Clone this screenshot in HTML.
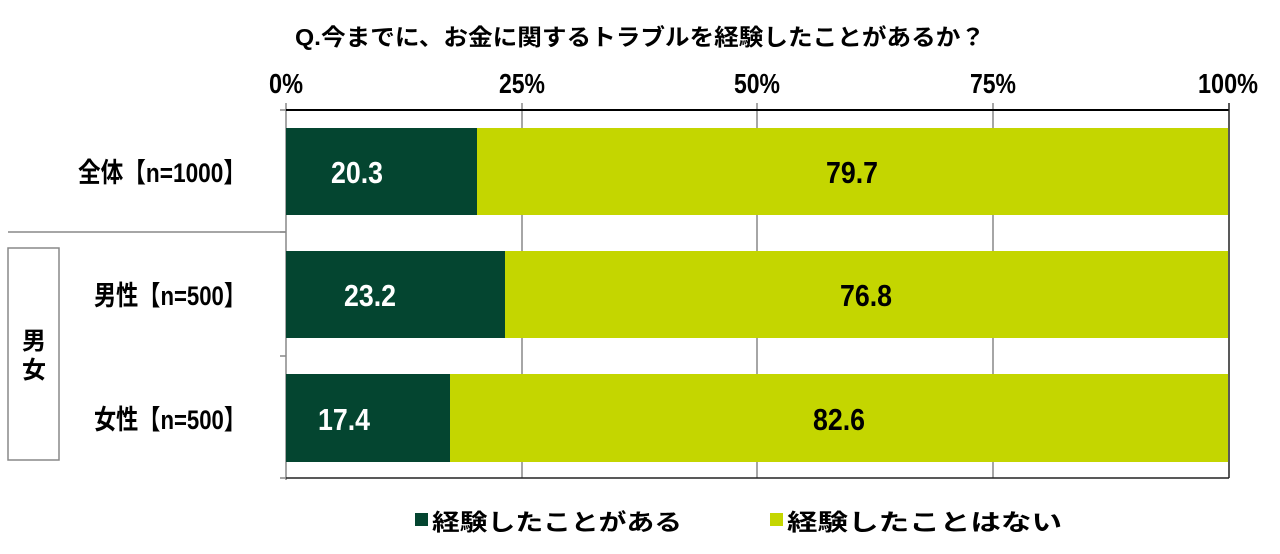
<!DOCTYPE html>
<html><head><meta charset="utf-8"><style>body{margin:0;background:#fff}svg{display:block}</style></head>
<body>
<svg width="1280" height="554" xmlns="http://www.w3.org/2000/svg" font-family="'Liberation Sans','Noto Sans CJK JP',sans-serif" font-weight="bold">
<text x="640" y="45" text-anchor="middle" font-size="23" textLength="690" lengthAdjust="spacingAndGlyphs">Q.今までに、お金に関するトラブルを経験したことがあるか？</text>
<g font-size="28" text-anchor="middle">
<text x="286" y="93" textLength="34" lengthAdjust="spacingAndGlyphs">0%</text>
<text x="522" y="93" textLength="46" lengthAdjust="spacingAndGlyphs">25%</text>
<text x="757" y="93" textLength="46" lengthAdjust="spacingAndGlyphs">50%</text>
<text x="993" y="93" textLength="46" lengthAdjust="spacingAndGlyphs">75%</text>
<text x="1228" y="93" textLength="60" lengthAdjust="spacingAndGlyphs">100%</text>
</g>
<g stroke="#888" stroke-width="1.5">
<line x1="522" y1="103" x2="522" y2="478"/><line x1="757" y1="103" x2="757" y2="478"/><line x1="993" y1="103" x2="993" y2="478"/>
<line x1="286" y1="103" x2="286" y2="480"/>
<line x1="280" y1="110" x2="286" y2="110"/><line x1="280" y1="232" x2="286" y2="232"/><line x1="280" y1="356" x2="286" y2="356"/><line x1="280" y1="478" x2="286" y2="478"/>
<line x1="8" y1="232" x2="286" y2="232"/>
</g>
<rect x="8" y="248" width="51" height="212" fill="none" stroke="#888" stroke-width="1.5"/>
<rect x="286" y="128" width="191" height="87" fill="#044530"/><rect x="477" y="128" width="751" height="87" fill="#c4d600"/>
<rect x="286" y="251" width="219" height="87" fill="#044530"/><rect x="505" y="251" width="723" height="87" fill="#c4d600"/>
<rect x="286" y="374" width="164" height="88" fill="#044530"/><rect x="450" y="374" width="778" height="88" fill="#c4d600"/>
<line x1="286" y1="110" x2="1229" y2="110" stroke="#000" stroke-width="2"/>
<line x1="1229" y1="103" x2="1229" y2="478" stroke="#222" stroke-width="1.5"/>
<line x1="286" y1="478" x2="1229" y2="478" stroke="#222" stroke-width="1.5"/>
<g font-size="31" text-anchor="middle">
<text x="357" y="183" fill="#fff" textLength="52" lengthAdjust="spacingAndGlyphs">20.3</text>
<text x="852" y="183" textLength="52" lengthAdjust="spacingAndGlyphs">79.7</text>
<text x="370" y="306" fill="#fff" textLength="52" lengthAdjust="spacingAndGlyphs">23.2</text>
<text x="866" y="306" textLength="52" lengthAdjust="spacingAndGlyphs">76.8</text>
<text x="344" y="430" fill="#fff" textLength="52" lengthAdjust="spacingAndGlyphs">17.4</text>
<text x="839" y="430" textLength="52" lengthAdjust="spacingAndGlyphs">82.6</text>
</g>
<g font-size="27" text-anchor="end">
<text x="246" y="182" textLength="168" lengthAdjust="spacingAndGlyphs">全体【n=1000】</text>
<text x="246" y="305" textLength="152" lengthAdjust="spacingAndGlyphs">男性【n=500】</text>
<text x="246" y="429" textLength="152" lengthAdjust="spacingAndGlyphs">女性【n=500】</text>
</g>
<text x="34" y="349" font-size="24" text-anchor="middle">男</text>
<text x="34" y="378" font-size="24" text-anchor="middle">女</text>
<rect x="415" y="513" width="13" height="13" fill="#044530"/>
<text x="432" y="530" font-size="23" textLength="250" lengthAdjust="spacingAndGlyphs">経験したことがある</text>
<rect x="770" y="513" width="13" height="13" fill="#c4d600"/>
<text x="787" y="530" font-size="23" textLength="275" lengthAdjust="spacingAndGlyphs">経験したことはない</text>
</svg>
</body></html>
